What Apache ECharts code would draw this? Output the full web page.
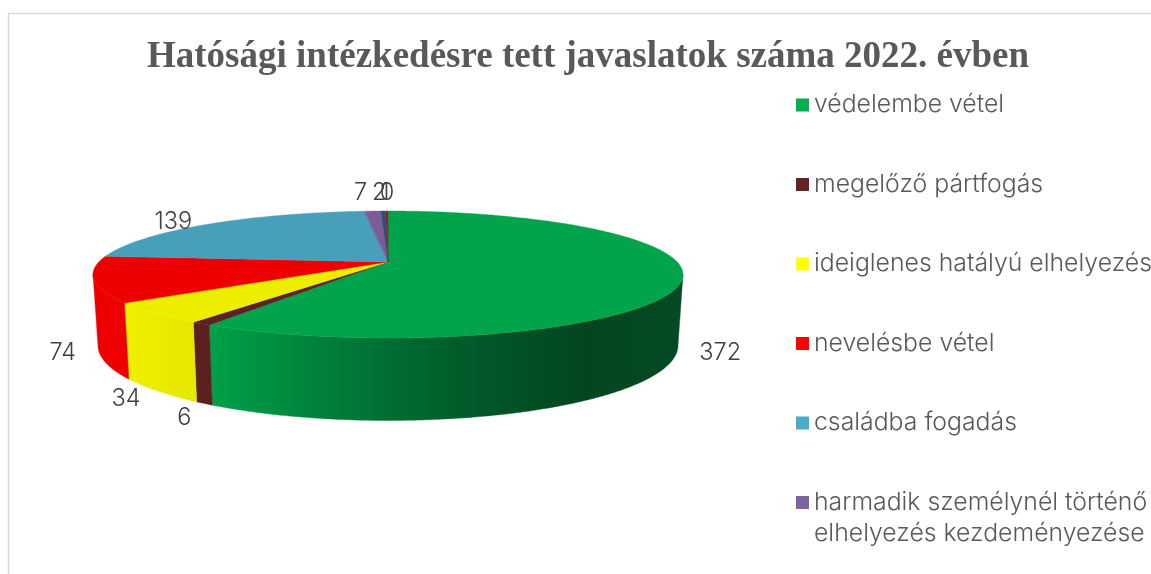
<!DOCTYPE html>
<html><head><meta charset="utf-8">
<style>html,body{margin:0;padding:0;background:#fff;overflow:hidden}#c{width:1151px;height:574px}</style>
<script src="https://cdn.jsdelivr.net/npm/echarts@6/dist/echarts.min.js"></script>
</head><body><div id="c"></div>
<script>
// ---- data ----
const titleText = 'Hatósági intézkedésre tett javaslatok száma 2022. évben';
const categories = ['védelembe vétel','megelőző pártfogás','ideiglenes hatályú elhelyezés','nevelésbe vétel','családba fogadás','harmadik személynél történő\nelhelyezés kezdeményezése','további kategória 1','további kategória 2','további kategória 3'];
const values = [372,6,34,74,139,7,2,1,0];
// ---- styles ----
const legendColors = ['#00B050','#632523','#FFFF00','#FF0000','#4BACC6','#8064A2','#1F497D','#C0504D','#9BBB59'];
const topColors = ['#02A44B','#5A2120','#EDED00','#EE0000','#479FB9','#7A5E98','#2E4E7A','#8B2323','#8B2323'];
const wallStops = [
  [[0.2,'#00A049'],[0.42,'#007A39'],[0.6,'#005F2C'],[0.83,'#03451F'],[1,'#054A24']],
  [[0,'#5A2120'],[1,'#5A2120']],
  [[0.05,'#F0F000'],[0.2,'#E4E400']],
  [[0,'#EE0000'],[1,'#EE0000']]
];
const labelNudges = [[43,2],[-20,14],[-32,8],[-36,2],[-35,-2],[-12,-18],[-4,-18],[-2,-18],[-1,-18]];
const TOP = {cx:388, cy:274.5, rx:295, ry:63.5};
const BOTTOM = {cx:388, cy:345.5, rx:290, ry:75};
const TILT = 0.197;               // perspective shift of the pie centre along the view axis
const LEFT = 93, RIGHT = 683;
const LABEL_FONT = 'Inter, "Noto Sans", sans-serif';

const total = values.reduce((a,b)=>a+b,0);
const cum = values.reduce((acc,v)=>{acc.push(acc[acc.length-1]+v);return acc;},[0]);
const toAngle = v => v/total*2*Math.PI;
// unit-circle angle (clockwise from the far point) -> perspective position on a rim ellipse
function project(theta, e){
  const x=Math.sin(theta), y=-Math.cos(theta), d=1-TILT*y, s=Math.sqrt(1-TILT*TILT);
  return [e.cx + e.rx*x*s/d, e.cy + e.ry*(y-TILT)/d];
}
const apex = [TOP.cx, TOP.cy + TOP.ry*(-TILT)];
const frontStart = Math.acos(-TILT), frontEnd = 2*Math.PI-frontStart;
function arc(a,b,e){
  const n=Math.max(2,Math.ceil(Math.abs(b-a)/0.01)), out=[];
  for(let i=0;i<=n;i++) out.push(project(a+(b-a)*i/n,e));
  return out;
}
function renderSlice(idx){
  return function(params, api){
    const v = api.value(0);
    const a = toAngle(cum[idx]), b = toAngle(cum[idx]+v);
    const children = [];
    const fa=Math.max(a,frontStart), fb=Math.min(b,frontEnd);
    if(v>0 && fb>fa){
      const pts = arc(fa,fb,TOP).concat(arc(fa,fb,BOTTOM).reverse());
      const grad = new echarts.graphic.LinearGradient(LEFT,0,RIGHT,0,
        (wallStops[idx]||[[0,topColors[idx]],[1,topColors[idx]]]).map(s=>({offset:s[0],color:s[1]})), true);
      children.push({type:'polygon',shape:{points:pts},style:{fill:grad,stroke:grad,lineWidth:0.4}});
    }
    if(v>0){
      const pts = [apex].concat(arc(a,b,TOP));
      children.push({type:'polygon',shape:{points:pts},style:{fill:topColors[idx],stroke:topColors[idx],lineWidth:0.4}});
    }
    const mid=(a+b)/2;
    const isFront = mid>frontStart && mid<frontEnd;
    const p = project(mid,isFront?BOTTOM:TOP);
    children.push({type:'text',z2:10,x:p[0]+labelNudges[idx][0],y:p[1]+labelNudges[idx][1],
      style:{text:String(v),fill:'#404040',font:'300 23.5px '+LABEL_FONT,align:'center',verticalAlign:'middle'}});
    return {type:'group',children};
  };
}
const chart = echarts.init(document.getElementById('c'),null,{renderer:'canvas'});
const legendText = {color:'#595959',fontSize:24.8,fontWeight:300,fontFamily:LABEL_FONT,lineHeight:31};
chart.setOption({
  animation:false,
  backgroundColor:'#fff',
  title:{text:titleText,left:147,top:39,padding:0,
    textStyle:{color:'#595959',fontSize:37,fontWeight:'bold',fontFamily:'"Liberation Serif", serif'}},
  legend:[
    {orient:'vertical',left:796,top:89.5,padding:0,itemGap:48.5,itemWidth:13,itemHeight:13,icon:'rect',
      selectedMode:false,data:categories.slice(0,5),textStyle:legendText},
    {orient:'vertical',left:796,top:456,padding:0,itemWidth:13,itemHeight:13,icon:'rect',
      selectedMode:false,data:categories.slice(5,6),textStyle:legendText,
      formatter:n=>'\n'+n}
  ],
  graphic:[
    {type:'polyline',silent:true,shape:{points:[[8.5,574],[8.5,13.5],[1151,13.5]]},style:{stroke:'#D9D9D9',lineWidth:1.5,fill:null}}
  ],
  series:categories.map((name,i)=>({
    type:'custom',name,coordinateSystem:'none',silent:true,
    itemStyle:{color:legendColors[i]},
    data:[[values[i]]],
    renderItem:renderSlice(i)
  }))
});
</script></body></html>
